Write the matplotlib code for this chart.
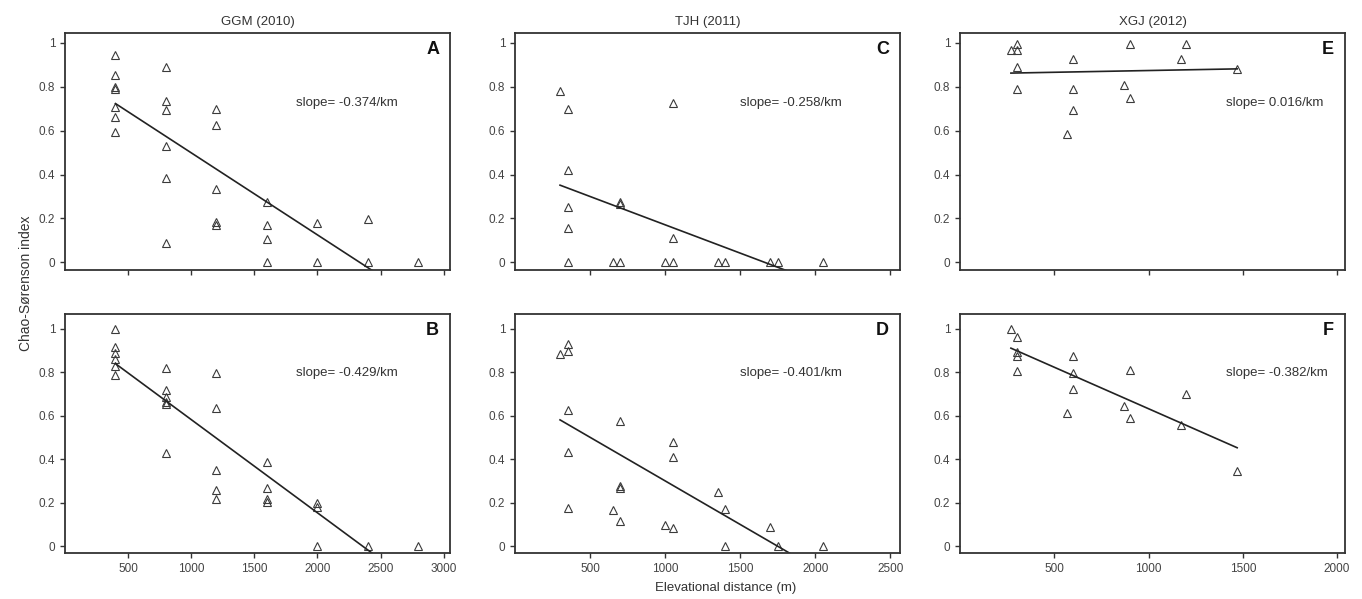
import numpy as np
import matplotlib
matplotlib.use("Agg")
import matplotlib.pyplot as plt

plt.rcParams['font.family'] = ['Liberation Sans', 'DejaVu Sans']

# data: elevational distance (m) vs Chao-Sorenson index
a_x = [400]*7 + [800]*6 + [1200]*5 + [1600]*4 + [2000]*2 + [2400]*2 + [2800]
a_y = [0.945, 0.853, 0.80, 0.79, 0.71, 0.66, 0.595,
       0.891, 0.734, 0.696, 0.528, 0.382, 0.09,
       0.699, 0.624, 0.335, 0.184, 0.168,
       0.277, 0.171, 0.108, 0.0,
       0.177, 0.0,
       0.199, 0.0,
       0.0]

b_x = [400]*6 + [800]*6 + [1200]*5 + [1600]*4 + [2000]*3 + [2400] + [2800]
b_y = [0.997, 0.916, 0.888, 0.862, 0.83, 0.785,
       0.819, 0.719, 0.686, 0.665, 0.655, 0.429,
       0.796, 0.635, 0.351, 0.256, 0.215,
       0.387, 0.268, 0.215, 0.205,
       0.20, 0.18, 0.0,
       0.0,
       0.0]

c_x = [300] + [350]*5 + [650] + [700]*3 + [1000] + [1050]*3 + [1350, 1400, 1700, 1750, 2050]
c_y = [0.781,
       0.697, 0.421, 0.25, 0.158, 0.0,
       0.0,
       0.277, 0.266, 0.0,
       0.0,
       0.724, 0.112, 0.0,
       0.0, 0.0, 0.0, 0.0, 0.0]

d_x = [300] + [350]*5 + [650] + [700]*4 + [1000] + [1050]*3 + [1350] + [1400]*2 + [1700, 1750, 2050]
d_y = [0.885,
       0.928, 0.896, 0.627, 0.434, 0.176,
       0.168,
       0.575, 0.275, 0.269, 0.113,
       0.095,
       0.48, 0.408, 0.084,
       0.251,
       0.171, 0.0,
       0.086, 0.0, 0.0]

e_x = [270] + [300]*4 + [570] + [600]*3 + [870] + [900]*2 + [1170, 1200, 1470]
e_y = [0.968,
       0.994, 0.968, 0.89, 0.792,
       0.587,
       0.928, 0.789, 0.696,
       0.809,
       0.994, 0.748,
       0.925, 0.994, 0.882]

f_x = [270] + [300]*4 + [570] + [600]*3 + [870] + [900]*2 + [1170, 1200, 1470]
f_y = [0.997,
       0.962, 0.893, 0.874, 0.804,
       0.613,
       0.873, 0.798, 0.724,
       0.645,
       0.812, 0.588,
       0.556, 0.70, 0.345]

panel_letters = ['A', 'B', 'C', 'D', 'E', 'F']
column_titles = ['GGM (2010)', 'TJH (2011)', 'XGJ (2012)']
slopes = [-0.374, -0.429, -0.258, -0.401, 0.016, -0.382]      # per km
intercepts = [0.873, 1.011, 0.429, 0.701, 0.858, 1.014]
line_start = [400, 400, 300, 300, 270, 270]
line_end = [2500, 2500, 1950, 1900, 1470, 1470]
x_max = [3000, 3000, 2500, 2500, 2000, 2000]

xs = [a_x, b_x, c_x, d_x, e_x, f_x]
ys = [a_y, b_y, c_y, d_y, e_y, f_y]

W, H = 1362, 599
fig = plt.figure(figsize=(W/100, H/100), dpi=100)

col_left = [65, 515, 960]
col_w = 385
row_top = [33, 314]
row_h = [237, 239]
xlims = [3050, 2565, 2042]
ylims = [(-0.035, 1.045), (-0.032, 1.068)]
txt_x = [0.60, 0.585, 0.69]
txt_y = [0.705, 0.752]

dark = '#333333'
for i in range(6):
    col, row = i // 2, i % 2
    l = col_left[col] / W
    b = (H - row_top[row] - row_h[row]) / H
    ax = fig.add_axes([l, b, col_w / W, row_h[row] / H])

    ax.plot(xs[i], ys[i], linestyle='none', marker='^', markersize=5.5,
            markerfacecolor='none', markeredgecolor='#3a3a3a', markeredgewidth=0.8)
    lx = np.array([line_start[i], line_end[i]])
    ax.plot(lx, intercepts[i] + slopes[i] * lx / 1000, color='#222222', lw=1.2)

    ax.set_xlim(0, xlims[col])
    ax.set_ylim(*ylims[row])
    ax.set_xticks(np.arange(500, x_max[i] + 1, 500))
    ax.set_yticks([0, 0.2, 0.4, 0.6, 0.8, 1])
    ax.set_yticklabels(['0', '0.2', '0.4', '0.6', '0.8', '1'])
    if row == 0:
        ax.set_xticklabels([])
        ax.set_title(column_titles[col], fontsize=9.5, color=dark, pad=6)
    ax.tick_params(direction='out', length=3.5, width=1, colors=dark,
                   labelsize=8.5, labelcolor='#444444')
    for s in ax.spines.values():
        s.set_color(dark)
        s.set_linewidth(1.3)

    ax.text(0.972, 0.93, panel_letters[i], transform=ax.transAxes, ha='right',
            va='center', fontsize=13, fontweight='bold', color='#111111')
    ax.text(txt_x[col], txt_y[row], 'slope= %.3f/km' % slopes[i], transform=ax.transAxes,
            ha='left', va='center', fontsize=9.5, color=dark)

fig.text(26/W, 1 - 283/H, 'Chao-Sørenson index', rotation=90, ha='center', va='center',
         fontsize=10, color=dark)
fig.text(726/W, 1 - 588/H, 'Elevational distance (m)', ha='center', va='center',
         fontsize=9.5, color=dark)

fig.savefig('out.png', dpi=100)
